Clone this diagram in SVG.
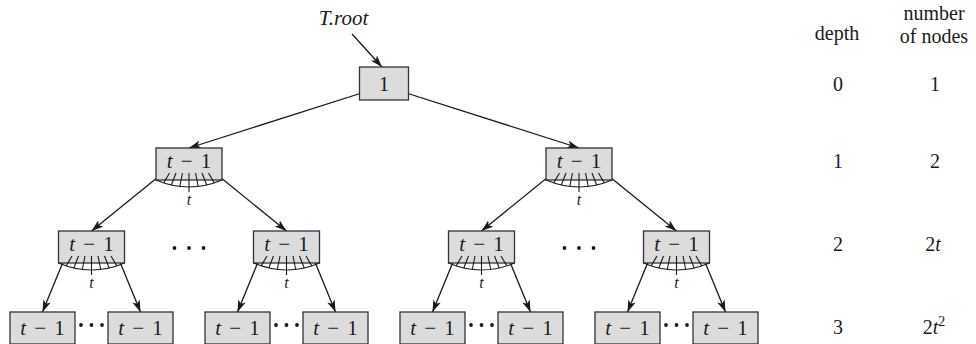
<svg xmlns="http://www.w3.org/2000/svg" width="976" height="344" viewBox="0 0 976 344">
<defs>
<style>
text{font-family:"Liberation Serif","Times New Roman",serif;fill:#1a1a1a}
.lbl{font-size:20px;text-anchor:middle}
.nl{font-size:21px;text-anchor:middle;word-spacing:3px}
.it{font-style:italic}
.small{font-size:16px;font-style:italic;text-anchor:middle}
.box{fill:#dcdcdc;stroke:#333;stroke-width:1.3}
.edge{stroke:#1a1a1a;stroke-width:1.3;fill:none}
.fan{stroke:#1a1a1a;stroke-width:1.1;fill:none}
.dot{fill:#1a1a1a}
</style>
<marker id="ah" markerUnits="userSpaceOnUse" markerWidth="13" markerHeight="9" refX="12" refY="4" orient="auto">
<path d="M0,0 L12,4 L0,8 L3,4 z" fill="#1a1a1a"/>
</marker>
<g id="fanT">
<path class="fan" d="M-33,0 Q0,14 33,0"/>
<path class="fan" d="M-19.5,-7 L-25.3,2.9 M-13,-7 L-17.7,5 M-6.5,-7 L-9.2,6.5 M0,-7 L0,12 M6.5,-7 L9.2,6.5 M13,-7 L17.7,5 M19.5,-7 L25.3,2.9"/>
<text class="small" x="0" y="25">t</text>
</g>
</defs>
<rect width="976" height="344" fill="#fff"/>

<g id="connectors">
<line class="edge" x1="352" y1="34" x2="382" y2="67" marker-end="url(#ah)"/>
<line class="edge" x1="368" y1="91" x2="189" y2="148" marker-end="url(#ah)"/>
<line class="edge" x1="400" y1="91" x2="579" y2="148" marker-end="url(#ah)"/>
<line class="edge" x1="163" y1="173" x2="91.5" y2="231" marker-end="url(#ah)"/>
<line class="edge" x1="215" y1="173" x2="286.5" y2="231" marker-end="url(#ah)"/>
<line class="edge" x1="553" y1="173" x2="481.5" y2="231" marker-end="url(#ah)"/>
<line class="edge" x1="605" y1="173" x2="676.5" y2="231" marker-end="url(#ah)"/>
<line class="edge" x1="65.5" y1="256" x2="42.5" y2="312" marker-end="url(#ah)"/>
<line class="edge" x1="117.5" y1="256" x2="140.5" y2="312" marker-end="url(#ah)"/>
<line class="edge" x1="260.5" y1="256" x2="237.5" y2="312" marker-end="url(#ah)"/>
<line class="edge" x1="312.5" y1="256" x2="335.5" y2="312" marker-end="url(#ah)"/>
<line class="edge" x1="455.5" y1="256" x2="432.5" y2="312" marker-end="url(#ah)"/>
<line class="edge" x1="507.5" y1="256" x2="530.5" y2="312" marker-end="url(#ah)"/>
<line class="edge" x1="650.5" y1="256" x2="627.5" y2="312" marker-end="url(#ah)"/>
<line class="edge" x1="702.5" y1="256" x2="725.5" y2="312" marker-end="url(#ah)"/>
</g>

<g id="root">
<rect class="box" x="359.5" y="67" width="49" height="33"/>
<text class="nl" x="384" y="91">1</text>
</g>
<g id="troot-label">
<text class="lbl it" x="343.5" y="25" style="font-size:21px">T.root</text>
</g>

<g id="n1a">
<rect class="box" x="156" y="148" width="66" height="32"/>
<text class="nl" x="189" y="168"><tspan class="it">t</tspan> − 1</text>
<use href="#fanT" x="189" y="180"/>
</g>
<g id="n1b">
<rect class="box" x="546" y="148" width="66" height="32"/>
<text class="nl" x="579" y="168"><tspan class="it">t</tspan> − 1</text>
<use href="#fanT" x="579" y="180"/>
</g>

<g id="n2a">
<rect class="box" x="58.5" y="231" width="66" height="32"/>
<text class="nl" x="91.5" y="251"><tspan class="it">t</tspan> − 1</text>
<use href="#fanT" x="91.5" y="263"/>
</g>
<g id="n2b">
<rect class="box" x="253.5" y="231" width="66" height="32"/>
<text class="nl" x="286.5" y="251"><tspan class="it">t</tspan> − 1</text>
<use href="#fanT" x="286.5" y="263"/>
</g>
<g id="n2c">
<rect class="box" x="448.5" y="231" width="66" height="32"/>
<text class="nl" x="481.5" y="251"><tspan class="it">t</tspan> − 1</text>
<use href="#fanT" x="481.5" y="263"/>
</g>
<g id="n2d">
<rect class="box" x="643.5" y="231" width="66" height="32"/>
<text class="nl" x="676.5" y="251"><tspan class="it">t</tspan> − 1</text>
<use href="#fanT" x="676.5" y="263"/>
</g>
<g id="dots2">
<circle class="dot" cx="174.5" cy="248" r="1.9"/><circle class="dot" cx="189" cy="248" r="1.9"/><circle class="dot" cx="203.5" cy="248" r="1.9"/>
<circle class="dot" cx="564.5" cy="248" r="1.9"/><circle class="dot" cx="579" cy="248" r="1.9"/><circle class="dot" cx="593.5" cy="248" r="1.9"/>
</g>

<g id="n3a"><rect class="box" x="10" y="312" width="65" height="32"/><text class="nl" x="42.5" y="335"><tspan class="it">t</tspan> − 1</text></g>
<g id="n3b"><rect class="box" x="108" y="312" width="65" height="32"/><text class="nl" x="140.5" y="335"><tspan class="it">t</tspan> − 1</text></g>
<g id="n3c"><rect class="box" x="205" y="312" width="65" height="32"/><text class="nl" x="237.5" y="335"><tspan class="it">t</tspan> − 1</text></g>
<g id="n3d"><rect class="box" x="303" y="312" width="65" height="32"/><text class="nl" x="335.5" y="335"><tspan class="it">t</tspan> − 1</text></g>
<g id="n3e"><rect class="box" x="400" y="312" width="65" height="32"/><text class="nl" x="432.5" y="335"><tspan class="it">t</tspan> − 1</text></g>
<g id="n3f"><rect class="box" x="498" y="312" width="65" height="32"/><text class="nl" x="530.5" y="335"><tspan class="it">t</tspan> − 1</text></g>
<g id="n3g"><rect class="box" x="595" y="312" width="65" height="32"/><text class="nl" x="627.5" y="335"><tspan class="it">t</tspan> − 1</text></g>
<g id="n3h"><rect class="box" x="693" y="312" width="65" height="32"/><text class="nl" x="725.5" y="335"><tspan class="it">t</tspan> − 1</text></g>
<g id="dots3">
<circle class="dot" cx="81" cy="325" r="1.9"/><circle class="dot" cx="91.5" cy="325" r="1.9"/><circle class="dot" cx="102" cy="325" r="1.9"/>
<circle class="dot" cx="276" cy="325" r="1.9"/><circle class="dot" cx="286.5" cy="325" r="1.9"/><circle class="dot" cx="297" cy="325" r="1.9"/>
<circle class="dot" cx="471" cy="325" r="1.9"/><circle class="dot" cx="481.5" cy="325" r="1.9"/><circle class="dot" cx="492" cy="325" r="1.9"/>
<circle class="dot" cx="666" cy="325" r="1.9"/><circle class="dot" cx="676.5" cy="325" r="1.9"/><circle class="dot" cx="687" cy="325" r="1.9"/>
</g>

<g id="table">
<text class="lbl" x="837" y="40">depth</text>
<text class="lbl" x="934" y="20">number</text>
<text class="lbl" x="934" y="43">of nodes</text>
<text class="lbl" x="838" y="91">0</text>
<text class="lbl" x="935" y="91">1</text>
<text class="lbl" x="838" y="168">1</text>
<text class="lbl" x="935" y="168">2</text>
<text class="lbl" x="838" y="251">2</text>
<text class="lbl" x="933" y="251">2<tspan class="it">t</tspan></text>
<text class="lbl" x="838" y="334">3</text>
<text class="lbl" x="934" y="334">2<tspan class="it">t</tspan><tspan style="font-size:14px" dy="-8">2</tspan></text>
</g>
</svg>
